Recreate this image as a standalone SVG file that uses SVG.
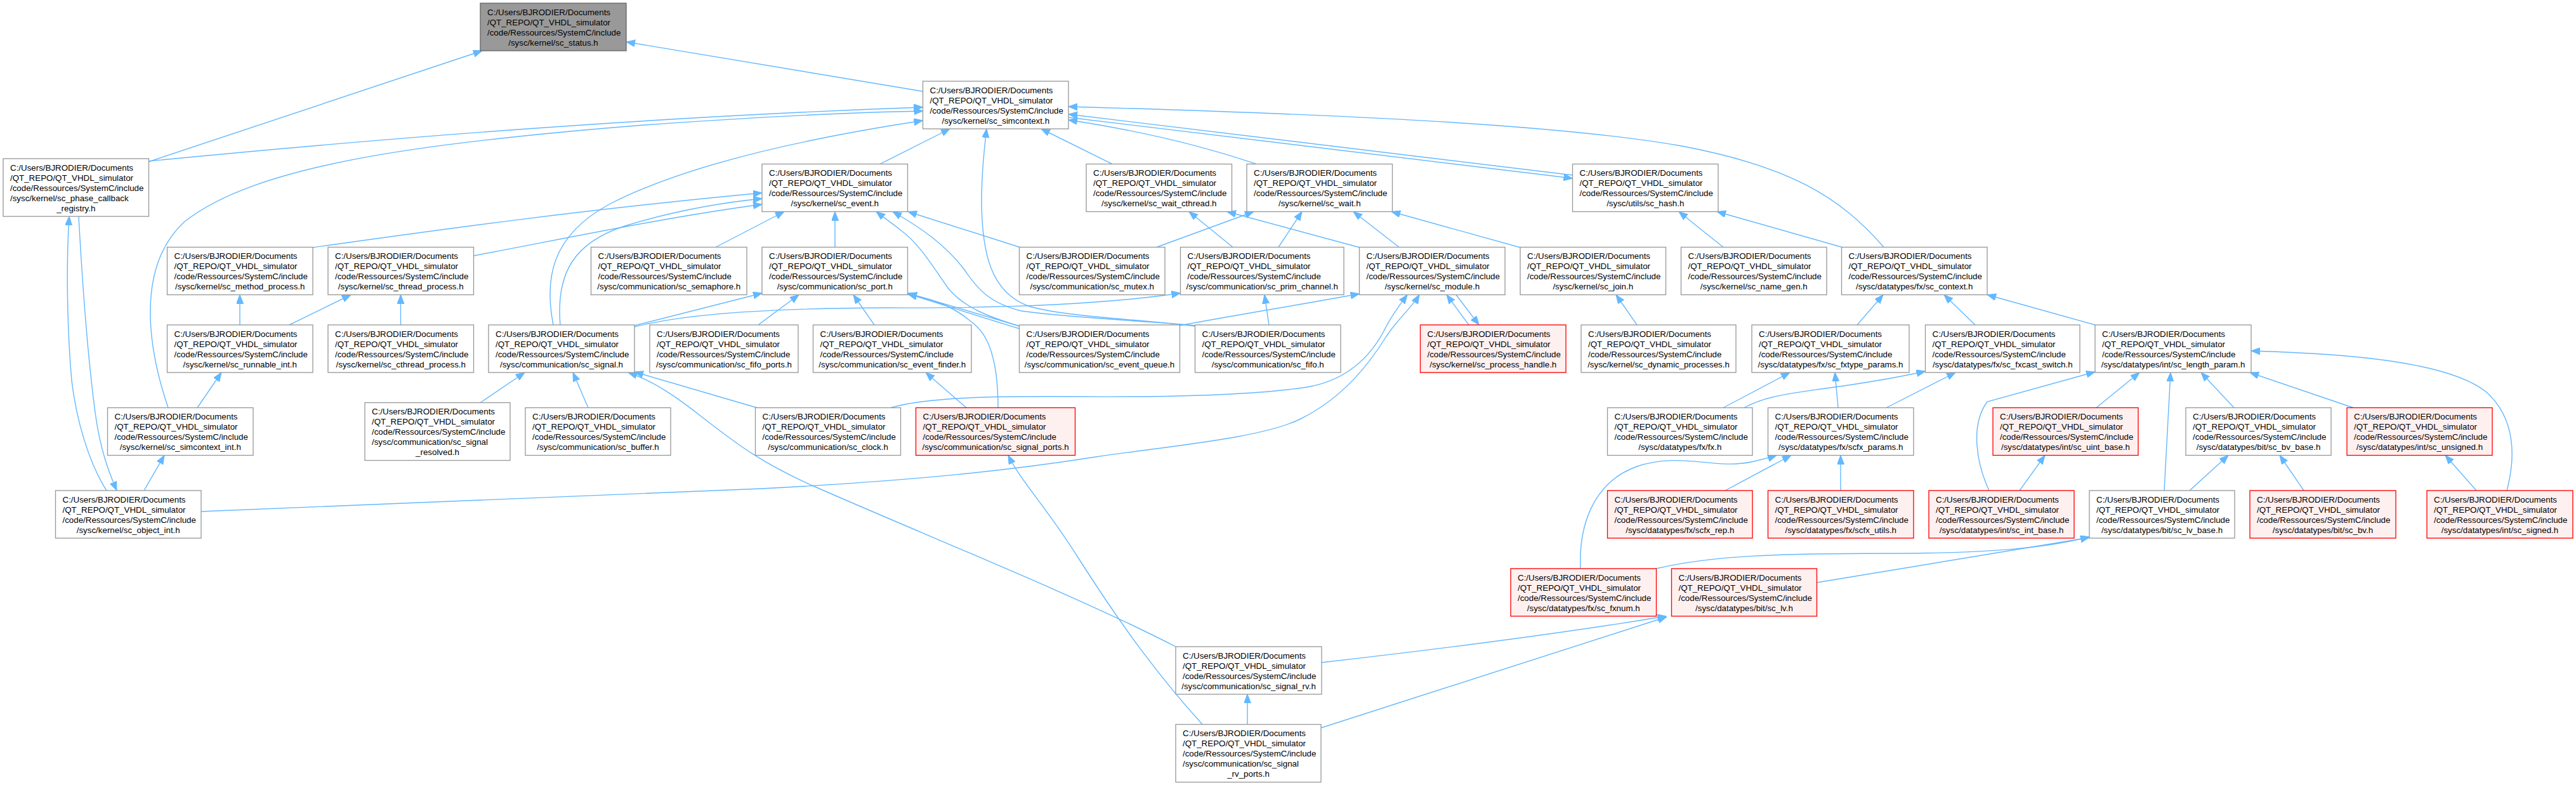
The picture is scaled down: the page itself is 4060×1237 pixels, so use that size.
<svg xmlns="http://www.w3.org/2000/svg" width="4060" height="1237" viewBox="0 0 4060 1237">
<style>
.node rect{fill:#ffffff;stroke:#999999;stroke-width:1.33}
.node.red rect{fill:#fff0f0;stroke:#ff0000}
.node.root rect{fill:#999999;stroke:#666666}
.node text{font-family:"Liberation Sans",Arial,Helvetica,sans-serif;font-size:13.33px;fill:#000000}
.node text.c{text-anchor:middle}
#edges path{fill:none;stroke:#63b8ff;stroke-width:1.4;marker-end:url(#ah)}
</style>
<defs>
<marker id="ah" markerUnits="userSpaceOnUse" markerWidth="14" markerHeight="12" refX="14" refY="5.5" orient="auto">
<path d="M0,0 L14,5.5 L0,11 z" fill="#63b8ff" stroke="#63b8ff" stroke-width="1"/>
</marker>
</defs>
<rect width="4060" height="1237" fill="#ffffff"/>

<g id="edges">
<path d="M1454.5,144 L987,66"/>
<path d="M234,255 L760,80"/>
<path d="M234,254 C560,222 1000,185 1454.5,169"/>
<path d="M265,642.5 C232,545 215,420 290,350 C400,262 650,226 1015,197 C1200,184 1340,177 1454.5,175"/>
<path d="M872,512 C858,440 868,372 960,322 C1090,255 1290,215 1454.5,190"/>
<path d="M883,512 C876,430 905,382 985,356 C1060,333 1130,320 1201,313"/>
<path d="M493,390 C650,368 900,332 1201,304"/>
<path d="M746.5,403 C880,378 1050,342 1201,322"/>
<path d="M1128,389.5 L1236,333.5"/>
<path d="M1316,389.5 L1316,333.5"/>
<path d="M1607,514 C1560,500 1520,485 1495,455 C1470,420 1450,385 1420,363 C1405,351 1392,342 1381,333.5"/>
<path d="M1884,513 C1780,504 1680,500 1610,490 C1560,478 1540,455 1520,425 C1490,385 1450,358 1407,333.5"/>
<path d="M1884,514 C1800,503 1680,500 1620,482 C1562,460 1548,400 1547,320 C1547,270 1551,235 1555,203"/>
<path d="M1607,389.5 L1431,333.5"/>
<path d="M1387,258.5 L1497,203"/>
<path d="M1753,258.5 L1641,203"/>
<path d="M1980,258.5 C1890,228 1790,205 1684,189"/>
<path d="M2478.5,276 L1684,180"/>
<path d="M1684,185 L2478.5,281"/>
<path d="M2969,389.5 C2900,310 2820,262 2650,230 C2450,195 2100,180 1684,168"/>
<path d="M2205,389.5 L2133,333.5"/>
<path d="M2143,390 L1934,333.5"/>
<path d="M1823,389.5 L1976,333.5"/>
<path d="M1943,389.5 L1874,333.5"/>
<path d="M2015,389.5 L2052,333.5"/>
<path d="M2396,390 L2193,333.5"/>
<path d="M2716,389.5 L2646,333.5"/>
<path d="M2903,389.5 L2706,333.5"/>
<path d="M2927,512 L2968,464.5"/>
<path d="M3113,512 L3064,464.5"/>
<path d="M3302,512 L3132,464.5"/>
<path d="M2580,512 L2547,464.5"/>
<path d="M2315,512 L2280,464.5"/>
<path d="M2295,464.5 L2331,512"/>
<path d="M1859.5,513 C1950,496 2050,480 2142.5,463"/>
<path d="M1404,642.5 C1460,626 1560,624 1700,625 C1850,626 1980,622 2060,610 C2130,598 2165,555 2185,514 C2198,490 2208,478 2218,464.5"/>
<path d="M317,806 C600,795 900,785 1200,770 C1450,757 1600,740 1727,720 C1850,702 1990,690 2050,660 C2120,625 2160,570 2185,530 C2205,500 2225,485 2237,464.5"/>
<path d="M1000,513 L1201,462"/>
<path d="M1000,515 C1080,495 1200,486 1400,485 C1600,486 1750,478 1860.5,462"/>
<path d="M1195,512 L1259,464.5"/>
<path d="M1378,512 L1345,464.5"/>
<path d="M1607,514 L1431,462"/>
<path d="M1607,518 C1540,498 1480,478 1431,463"/>
<path d="M1573,642.5 C1573,590 1566,540 1540,515 C1510,487 1478,472 1431,464"/>
<path d="M1523,642.5 L1459,587"/>
<path d="M2000,512 L1993,464.5"/>
<path d="M757,634.5 L827,587"/>
<path d="M927,642.5 L903,587"/>
<path d="M1193,642.5 L1000,586"/>
<path d="M1853,1019 C1700,940 1450,840 1280,765 C1190,725 1150,690 1110,660 C1070,628 1030,600 990,587"/>
<path d="M1966,1141.5 L1966,1094"/>
<path d="M1895,1141.5 C1830,1070 1770,990 1700,880 C1650,800 1610,760 1589,717.5"/>
<path d="M2083,1044 C2250,1025 2450,1000 2626,971"/>
<path d="M2082,1147 L2627,972"/>
<path d="M2863.5,918 L3293,847"/>
<path d="M2610.5,896 C2700,875 2800,872 3000,872 C3150,871 3230,862 3293,846"/>
<path d="M2491,896 C2488,830 2510,760 2580,735 C2650,712 2700,740 2760,728 C2778,724 2790,721 2800,717.5"/>
<path d="M2719,773 L2823,717.5"/>
<path d="M2901,773 L2901,717.5"/>
<path d="M2716,642.5 L2821,587"/>
<path d="M2749,642.5 C2780,625 2820,620 2870,613 C2930,605 2990,595 3034.5,585"/>
<path d="M2897,642.5 L2892,587"/>
<path d="M2973,642.5 L3082,587"/>
<path d="M3135,773 C3115,730 3105,670 3132,633 L3302,586"/>
<path d="M3183,773 L3223,717.5"/>
<path d="M3304,642.5 L3372,587"/>
<path d="M3411,773 L3421,587"/>
<path d="M3521,642.5 L3469,587"/>
<path d="M3709,642.5 L3546,587"/>
<path d="M3951,773 C3965,720 3965,660 3919,618 C3860,570 3700,557 3548,553"/>
<path d="M3451,773 L3512,717.5"/>
<path d="M3631,773 L3593,717.5"/>
<path d="M3903,773 L3854,717.5"/>
<path d="M378,512 L378,464.5"/>
<path d="M456,512 L553,464.5"/>
<path d="M631.5,512 L631.5,464.5"/>
<path d="M311,642.5 L349,587"/>
<path d="M227,773 L259,717.5"/>
<path d="M168,773 C140,730 120,660 113,600 C106,520 104,420 109,341"/>
<path d="M124,341 C130,450 138,560 150,650 C158,710 172,745 184,773"/>
</g>

<g id="sc_status" class="node root" transform="translate(757,5)"><rect width="230" height="75"/><text x="11" y="18.5">C:/Users/BJRODIER/Documents<tspan x="11" dy="16">/QT_REPO/QT_VHDL_simulator</tspan><tspan x="11" dy="16">/code/Ressources/SystemC/include</tspan></text><text class="c" x="115" y="66.5">/sysc/kernel/sc_status.h</text></g>

<g id="sc_simcontext" class="node" transform="translate(1454.5,128)"><rect width="229.5" height="75"/><text x="11" y="18.5">C:/Users/BJRODIER/Documents<tspan x="11" dy="16">/QT_REPO/QT_VHDL_simulator</tspan><tspan x="11" dy="16">/code/Ressources/SystemC/include</tspan></text><text class="c" x="114.75" y="66.5">/sysc/kernel/sc_simcontext.h</text></g>

<g id="sc_phase_callback_registry" class="node" transform="translate(5,250)"><rect width="229.5" height="91"/><text x="11" y="18.5">C:/Users/BJRODIER/Documents<tspan x="11" dy="16">/QT_REPO/QT_VHDL_simulator</tspan><tspan x="11" dy="16">/code/Ressources/SystemC/include</tspan><tspan x="11" dy="16">/sysc/kernel/sc_phase_callback</tspan></text><text class="c" x="114.75" y="82.5">_registry.h</text></g>

<g id="sc_event" class="node" transform="translate(1201,258.5)"><rect width="229.5" height="75"/><text x="11" y="18.5">C:/Users/BJRODIER/Documents<tspan x="11" dy="16">/QT_REPO/QT_VHDL_simulator</tspan><tspan x="11" dy="16">/code/Ressources/SystemC/include</tspan></text><text class="c" x="114.75" y="66.5">/sysc/kernel/sc_event.h</text></g>

<g id="sc_wait_cthread" class="node" transform="translate(1712,258.5)"><rect width="229.5" height="75"/><text x="11" y="18.5">C:/Users/BJRODIER/Documents<tspan x="11" dy="16">/QT_REPO/QT_VHDL_simulator</tspan><tspan x="11" dy="16">/code/Ressources/SystemC/include</tspan></text><text class="c" x="114.75" y="66.5">/sysc/kernel/sc_wait_cthread.h</text></g>

<g id="sc_wait" class="node" transform="translate(1965,258.5)"><rect width="229.5" height="75"/><text x="11" y="18.5">C:/Users/BJRODIER/Documents<tspan x="11" dy="16">/QT_REPO/QT_VHDL_simulator</tspan><tspan x="11" dy="16">/code/Ressources/SystemC/include</tspan></text><text class="c" x="114.75" y="66.5">/sysc/kernel/sc_wait.h</text></g>

<g id="sc_hash" class="node" transform="translate(2478.5,258.5)"><rect width="229.5" height="75"/><text x="11" y="18.5">C:/Users/BJRODIER/Documents<tspan x="11" dy="16">/QT_REPO/QT_VHDL_simulator</tspan><tspan x="11" dy="16">/code/Ressources/SystemC/include</tspan></text><text class="c" x="114.75" y="66.5">/sysc/utils/sc_hash.h</text></g>

<g id="sc_method_process" class="node" transform="translate(263.5,389.5)"><rect width="229.5" height="75"/><text x="11" y="18.5">C:/Users/BJRODIER/Documents<tspan x="11" dy="16">/QT_REPO/QT_VHDL_simulator</tspan><tspan x="11" dy="16">/code/Ressources/SystemC/include</tspan></text><text class="c" x="114.75" y="66.5">/sysc/kernel/sc_method_process.h</text></g>

<g id="sc_thread_process" class="node" transform="translate(517,389.5)"><rect width="229.5" height="75"/><text x="11" y="18.5">C:/Users/BJRODIER/Documents<tspan x="11" dy="16">/QT_REPO/QT_VHDL_simulator</tspan><tspan x="11" dy="16">/code/Ressources/SystemC/include</tspan></text><text class="c" x="114.75" y="66.5">/sysc/kernel/sc_thread_process.h</text></g>

<g id="sc_semaphore" class="node" transform="translate(931.5,389.5)"><rect width="245.5" height="75"/><text x="11" y="18.5">C:/Users/BJRODIER/Documents<tspan x="11" dy="16">/QT_REPO/QT_VHDL_simulator</tspan><tspan x="11" dy="16">/code/Ressources/SystemC/include</tspan></text><text class="c" x="122.75" y="66.5">/sysc/communication/sc_semaphore.h</text></g>

<g id="sc_port" class="node" transform="translate(1201,389.5)"><rect width="229.5" height="75"/><text x="11" y="18.5">C:/Users/BJRODIER/Documents<tspan x="11" dy="16">/QT_REPO/QT_VHDL_simulator</tspan><tspan x="11" dy="16">/code/Ressources/SystemC/include</tspan></text><text class="c" x="114.75" y="66.5">/sysc/communication/sc_port.h</text></g>

<g id="sc_mutex" class="node" transform="translate(1606.5,389.5)"><rect width="229.5" height="75"/><text x="11" y="18.5">C:/Users/BJRODIER/Documents<tspan x="11" dy="16">/QT_REPO/QT_VHDL_simulator</tspan><tspan x="11" dy="16">/code/Ressources/SystemC/include</tspan></text><text class="c" x="114.75" y="66.5">/sysc/communication/sc_mutex.h</text></g>

<g id="sc_prim_channel" class="node" transform="translate(1860.5,389.5)"><rect width="257.5" height="75"/><text x="11" y="18.5">C:/Users/BJRODIER/Documents<tspan x="11" dy="16">/QT_REPO/QT_VHDL_simulator</tspan><tspan x="11" dy="16">/code/Ressources/SystemC/include</tspan></text><text class="c" x="128.75" y="66.5">/sysc/communication/sc_prim_channel.h</text></g>

<g id="sc_module" class="node" transform="translate(2142.5,389.5)"><rect width="229.5" height="75"/><text x="11" y="18.5">C:/Users/BJRODIER/Documents<tspan x="11" dy="16">/QT_REPO/QT_VHDL_simulator</tspan><tspan x="11" dy="16">/code/Ressources/SystemC/include</tspan></text><text class="c" x="114.75" y="66.5">/sysc/kernel/sc_module.h</text></g>

<g id="sc_join" class="node" transform="translate(2396,389.5)"><rect width="229.5" height="75"/><text x="11" y="18.5">C:/Users/BJRODIER/Documents<tspan x="11" dy="16">/QT_REPO/QT_VHDL_simulator</tspan><tspan x="11" dy="16">/code/Ressources/SystemC/include</tspan></text><text class="c" x="114.75" y="66.5">/sysc/kernel/sc_join.h</text></g>

<g id="sc_name_gen" class="node" transform="translate(2649.5,389.5)"><rect width="229.5" height="75"/><text x="11" y="18.5">C:/Users/BJRODIER/Documents<tspan x="11" dy="16">/QT_REPO/QT_VHDL_simulator</tspan><tspan x="11" dy="16">/code/Ressources/SystemC/include</tspan></text><text class="c" x="114.75" y="66.5">/sysc/kernel/sc_name_gen.h</text></g>

<g id="sc_context" class="node" transform="translate(2902.5,389.5)"><rect width="229.5" height="75"/><text x="11" y="18.5">C:/Users/BJRODIER/Documents<tspan x="11" dy="16">/QT_REPO/QT_VHDL_simulator</tspan><tspan x="11" dy="16">/code/Ressources/SystemC/include</tspan></text><text class="c" x="114.75" y="66.5">/sysc/datatypes/fx/sc_context.h</text></g>

<g id="sc_runnable_int" class="node" transform="translate(263.5,512)"><rect width="229.5" height="75"/><text x="11" y="18.5">C:/Users/BJRODIER/Documents<tspan x="11" dy="16">/QT_REPO/QT_VHDL_simulator</tspan><tspan x="11" dy="16">/code/Ressources/SystemC/include</tspan></text><text class="c" x="114.75" y="66.5">/sysc/kernel/sc_runnable_int.h</text></g>

<g id="sc_cthread_process" class="node" transform="translate(517,512)"><rect width="229.5" height="75"/><text x="11" y="18.5">C:/Users/BJRODIER/Documents<tspan x="11" dy="16">/QT_REPO/QT_VHDL_simulator</tspan><tspan x="11" dy="16">/code/Ressources/SystemC/include</tspan></text><text class="c" x="114.75" y="66.5">/sysc/kernel/sc_cthread_process.h</text></g>

<g id="sc_signal" class="node" transform="translate(770,512)"><rect width="230" height="75"/><text x="11" y="18.5">C:/Users/BJRODIER/Documents<tspan x="11" dy="16">/QT_REPO/QT_VHDL_simulator</tspan><tspan x="11" dy="16">/code/Ressources/SystemC/include</tspan></text><text class="c" x="115" y="66.5">/sysc/communication/sc_signal.h</text></g>

<g id="sc_fifo_ports" class="node" transform="translate(1024,512)"><rect width="234" height="75"/><text x="11" y="18.5">C:/Users/BJRODIER/Documents<tspan x="11" dy="16">/QT_REPO/QT_VHDL_simulator</tspan><tspan x="11" dy="16">/code/Ressources/SystemC/include</tspan></text><text class="c" x="117" y="66.5">/sysc/communication/sc_fifo_ports.h</text></g>

<g id="sc_event_finder" class="node" transform="translate(1281.5,512)"><rect width="249.5" height="75"/><text x="11" y="18.5">C:/Users/BJRODIER/Documents<tspan x="11" dy="16">/QT_REPO/QT_VHDL_simulator</tspan><tspan x="11" dy="16">/code/Ressources/SystemC/include</tspan></text><text class="c" x="124.75" y="66.5">/sysc/communication/sc_event_finder.h</text></g>

<g id="sc_event_queue" class="node" transform="translate(1606.5,512)"><rect width="253" height="75"/><text x="11" y="18.5">C:/Users/BJRODIER/Documents<tspan x="11" dy="16">/QT_REPO/QT_VHDL_simulator</tspan><tspan x="11" dy="16">/code/Ressources/SystemC/include</tspan></text><text class="c" x="126.5" y="66.5">/sysc/communication/sc_event_queue.h</text></g>

<g id="sc_fifo" class="node" transform="translate(1883.5,512)"><rect width="229.5" height="75"/><text x="11" y="18.5">C:/Users/BJRODIER/Documents<tspan x="11" dy="16">/QT_REPO/QT_VHDL_simulator</tspan><tspan x="11" dy="16">/code/Ressources/SystemC/include</tspan></text><text class="c" x="114.75" y="66.5">/sysc/communication/sc_fifo.h</text></g>

<g id="sc_process_handle" class="node red" transform="translate(2238.5,512)"><rect width="229.5" height="75"/><text x="11" y="18.5">C:/Users/BJRODIER/Documents<tspan x="11" dy="16">/QT_REPO/QT_VHDL_simulator</tspan><tspan x="11" dy="16">/code/Ressources/SystemC/include</tspan></text><text class="c" x="114.75" y="66.5">/sysc/kernel/sc_process_handle.h</text></g>

<g id="sc_dynamic_processes" class="node" transform="translate(2492,512)"><rect width="244" height="75"/><text x="11" y="18.5">C:/Users/BJRODIER/Documents<tspan x="11" dy="16">/QT_REPO/QT_VHDL_simulator</tspan><tspan x="11" dy="16">/code/Ressources/SystemC/include</tspan></text><text class="c" x="122" y="66.5">/sysc/kernel/sc_dynamic_processes.h</text></g>

<g id="sc_fxtype_params" class="node" transform="translate(2761,512)"><rect width="248" height="75"/><text x="11" y="18.5">C:/Users/BJRODIER/Documents<tspan x="11" dy="16">/QT_REPO/QT_VHDL_simulator</tspan><tspan x="11" dy="16">/code/Ressources/SystemC/include</tspan></text><text class="c" x="124" y="66.5">/sysc/datatypes/fx/sc_fxtype_params.h</text></g>

<g id="sc_fxcast_switch" class="node" transform="translate(3034.5,512)"><rect width="243.5" height="75"/><text x="11" y="18.5">C:/Users/BJRODIER/Documents<tspan x="11" dy="16">/QT_REPO/QT_VHDL_simulator</tspan><tspan x="11" dy="16">/code/Ressources/SystemC/include</tspan></text><text class="c" x="121.75" y="66.5">/sysc/datatypes/fx/sc_fxcast_switch.h</text></g>

<g id="sc_length_param" class="node" transform="translate(3302,512)"><rect width="246" height="75"/><text x="11" y="18.5">C:/Users/BJRODIER/Documents<tspan x="11" dy="16">/QT_REPO/QT_VHDL_simulator</tspan><tspan x="11" dy="16">/code/Ressources/SystemC/include</tspan></text><text class="c" x="123" y="66.5">/sysc/datatypes/int/sc_length_param.h</text></g>

<g id="sc_simcontext_int" class="node" transform="translate(169.5,642.5)"><rect width="229.5" height="75"/><text x="11" y="18.5">C:/Users/BJRODIER/Documents<tspan x="11" dy="16">/QT_REPO/QT_VHDL_simulator</tspan><tspan x="11" dy="16">/code/Ressources/SystemC/include</tspan></text><text class="c" x="114.75" y="66.5">/sysc/kernel/sc_simcontext_int.h</text></g>

<g id="sc_signal_resolved" class="node" transform="translate(575,634.5)"><rect width="229" height="91"/><text x="11" y="18.5">C:/Users/BJRODIER/Documents<tspan x="11" dy="16">/QT_REPO/QT_VHDL_simulator</tspan><tspan x="11" dy="16">/code/Ressources/SystemC/include</tspan><tspan x="11" dy="16">/sysc/communication/sc_signal</tspan></text><text class="c" x="114.5" y="82.5">_resolved.h</text></g>

<g id="sc_buffer" class="node" transform="translate(828,642.5)"><rect width="229" height="75"/><text x="11" y="18.5">C:/Users/BJRODIER/Documents<tspan x="11" dy="16">/QT_REPO/QT_VHDL_simulator</tspan><tspan x="11" dy="16">/code/Ressources/SystemC/include</tspan></text><text class="c" x="114.5" y="66.5">/sysc/communication/sc_buffer.h</text></g>

<g id="sc_clock" class="node" transform="translate(1190.5,642.5)"><rect width="229" height="75"/><text x="11" y="18.5">C:/Users/BJRODIER/Documents<tspan x="11" dy="16">/QT_REPO/QT_VHDL_simulator</tspan><tspan x="11" dy="16">/code/Ressources/SystemC/include</tspan></text><text class="c" x="114.5" y="66.5">/sysc/communication/sc_clock.h</text></g>

<g id="sc_signal_ports" class="node red" transform="translate(1443.5,642.5)"><rect width="251" height="75"/><text x="11" y="18.5">C:/Users/BJRODIER/Documents<tspan x="11" dy="16">/QT_REPO/QT_VHDL_simulator</tspan><tspan x="11" dy="16">/code/Ressources/SystemC/include</tspan></text><text class="c" x="125.5" y="66.5">/sysc/communication/sc_signal_ports.h</text></g>

<g id="fx" class="node" transform="translate(2533.5,642.5)"><rect width="228.5" height="75"/><text x="11" y="18.5">C:/Users/BJRODIER/Documents<tspan x="11" dy="16">/QT_REPO/QT_VHDL_simulator</tspan><tspan x="11" dy="16">/code/Ressources/SystemC/include</tspan></text><text class="c" x="114.25" y="66.5">/sysc/datatypes/fx/fx.h</text></g>

<g id="scfx_params" class="node" transform="translate(2786.5,642.5)"><rect width="229.5" height="75"/><text x="11" y="18.5">C:/Users/BJRODIER/Documents<tspan x="11" dy="16">/QT_REPO/QT_VHDL_simulator</tspan><tspan x="11" dy="16">/code/Ressources/SystemC/include</tspan></text><text class="c" x="114.75" y="66.5">/sysc/datatypes/fx/scfx_params.h</text></g>

<g id="sc_uint_base" class="node red" transform="translate(3141,642.5)"><rect width="229" height="75"/><text x="11" y="18.5">C:/Users/BJRODIER/Documents<tspan x="11" dy="16">/QT_REPO/QT_VHDL_simulator</tspan><tspan x="11" dy="16">/code/Ressources/SystemC/include</tspan></text><text class="c" x="114.5" y="66.5">/sysc/datatypes/int/sc_uint_base.h</text></g>

<g id="sc_bv_base" class="node" transform="translate(3445,642.5)"><rect width="229" height="75"/><text x="11" y="18.5">C:/Users/BJRODIER/Documents<tspan x="11" dy="16">/QT_REPO/QT_VHDL_simulator</tspan><tspan x="11" dy="16">/code/Ressources/SystemC/include</tspan></text><text class="c" x="114.5" y="66.5">/sysc/datatypes/bit/sc_bv_base.h</text></g>

<g id="sc_unsigned" class="node red" transform="translate(3699,642.5)"><rect width="229" height="75"/><text x="11" y="18.5">C:/Users/BJRODIER/Documents<tspan x="11" dy="16">/QT_REPO/QT_VHDL_simulator</tspan><tspan x="11" dy="16">/code/Ressources/SystemC/include</tspan></text><text class="c" x="114.5" y="66.5">/sysc/datatypes/int/sc_unsigned.h</text></g>

<g id="sc_object_int" class="node" transform="translate(87.5,773)"><rect width="229.5" height="75"/><text x="11" y="18.5">C:/Users/BJRODIER/Documents<tspan x="11" dy="16">/QT_REPO/QT_VHDL_simulator</tspan><tspan x="11" dy="16">/code/Ressources/SystemC/include</tspan></text><text class="c" x="114.75" y="66.5">/sysc/kernel/sc_object_int.h</text></g>

<g id="scfx_rep" class="node red" transform="translate(2533.5,773)"><rect width="228.5" height="75"/><text x="11" y="18.5">C:/Users/BJRODIER/Documents<tspan x="11" dy="16">/QT_REPO/QT_VHDL_simulator</tspan><tspan x="11" dy="16">/code/Ressources/SystemC/include</tspan></text><text class="c" x="114.25" y="66.5">/sysc/datatypes/fx/scfx_rep.h</text></g>

<g id="scfx_utils" class="node red" transform="translate(2786.5,773)"><rect width="229.5" height="75"/><text x="11" y="18.5">C:/Users/BJRODIER/Documents<tspan x="11" dy="16">/QT_REPO/QT_VHDL_simulator</tspan><tspan x="11" dy="16">/code/Ressources/SystemC/include</tspan></text><text class="c" x="114.75" y="66.5">/sysc/datatypes/fx/scfx_utils.h</text></g>

<g id="sc_int_base" class="node red" transform="translate(3040,773)"><rect width="229" height="75"/><text x="11" y="18.5">C:/Users/BJRODIER/Documents<tspan x="11" dy="16">/QT_REPO/QT_VHDL_simulator</tspan><tspan x="11" dy="16">/code/Ressources/SystemC/include</tspan></text><text class="c" x="114.5" y="66.5">/sysc/datatypes/int/sc_int_base.h</text></g>

<g id="sc_lv_base" class="node" transform="translate(3293,773)"><rect width="229" height="75"/><text x="11" y="18.5">C:/Users/BJRODIER/Documents<tspan x="11" dy="16">/QT_REPO/QT_VHDL_simulator</tspan><tspan x="11" dy="16">/code/Ressources/SystemC/include</tspan></text><text class="c" x="114.5" y="66.5">/sysc/datatypes/bit/sc_lv_base.h</text></g>

<g id="sc_bv" class="node red" transform="translate(3546,773)"><rect width="230" height="75"/><text x="11" y="18.5">C:/Users/BJRODIER/Documents<tspan x="11" dy="16">/QT_REPO/QT_VHDL_simulator</tspan><tspan x="11" dy="16">/code/Ressources/SystemC/include</tspan></text><text class="c" x="115" y="66.5">/sysc/datatypes/bit/sc_bv.h</text></g>

<g id="sc_signed" class="node red" transform="translate(3825,773)"><rect width="230" height="75"/><text x="11" y="18.5">C:/Users/BJRODIER/Documents<tspan x="11" dy="16">/QT_REPO/QT_VHDL_simulator</tspan><tspan x="11" dy="16">/code/Ressources/SystemC/include</tspan></text><text class="c" x="115" y="66.5">/sysc/datatypes/int/sc_signed.h</text></g>

<g id="sc_fxnum" class="node red" transform="translate(2381,896)"><rect width="229.5" height="75"/><text x="11" y="18.5">C:/Users/BJRODIER/Documents<tspan x="11" dy="16">/QT_REPO/QT_VHDL_simulator</tspan><tspan x="11" dy="16">/code/Ressources/SystemC/include</tspan></text><text class="c" x="114.75" y="66.5">/sysc/datatypes/fx/sc_fxnum.h</text></g>

<g id="sc_lv" class="node red" transform="translate(2634.5,896)"><rect width="229" height="75"/><text x="11" y="18.5">C:/Users/BJRODIER/Documents<tspan x="11" dy="16">/QT_REPO/QT_VHDL_simulator</tspan><tspan x="11" dy="16">/code/Ressources/SystemC/include</tspan></text><text class="c" x="114.5" y="66.5">/sysc/datatypes/bit/sc_lv.h</text></g>

<g id="sc_signal_rv" class="node" transform="translate(1853,1019)"><rect width="230" height="75"/><text x="11" y="18.5">C:/Users/BJRODIER/Documents<tspan x="11" dy="16">/QT_REPO/QT_VHDL_simulator</tspan><tspan x="11" dy="16">/code/Ressources/SystemC/include</tspan></text><text class="c" x="115" y="66.5">/sysc/communication/sc_signal_rv.h</text></g>

<g id="sc_signal_rv_ports" class="node" transform="translate(1853,1141.5)"><rect width="229" height="91"/><text x="11" y="18.5">C:/Users/BJRODIER/Documents<tspan x="11" dy="16">/QT_REPO/QT_VHDL_simulator</tspan><tspan x="11" dy="16">/code/Ressources/SystemC/include</tspan><tspan x="11" dy="16">/sysc/communication/sc_signal</tspan></text><text class="c" x="114.5" y="82.5">_rv_ports.h</text></g>
</svg>
